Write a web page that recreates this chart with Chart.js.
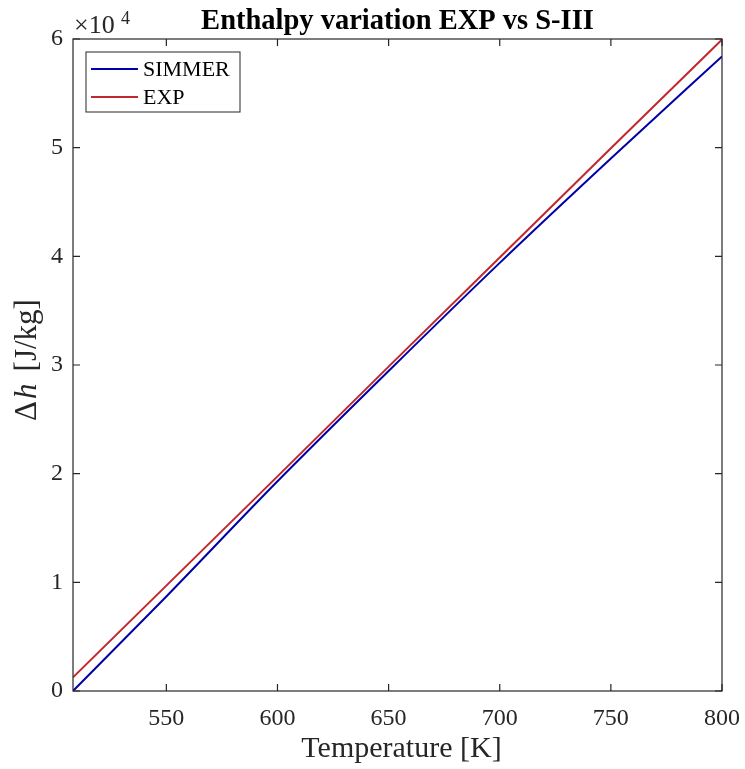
<!DOCTYPE html>
<html>
<head>
<meta charset="utf-8">
<script src="https://cdn.jsdelivr.net/npm/chart.js@4"></script>
<style>
  html, body { margin: 0; padding: 0; background: #fff; }
  #wrap { width: 745px; height: 769px; }
</style>
</head>
<body>
<div id="wrap"><canvas id="chart" width="745" height="769"></canvas></div>
<script>
// temperature [K] and enthalpy variation [J/kg]
const temperature = [508, 550, 600, 650, 700, 750, 800];
const simmer = [0, 8700, 19300, 29450, 39400, 49000, 58400];
const exp = [1260, 9700, 19750, 29850, 39900, 49950, 59950];
const xTicks = [550, 600, 650, 700, 750, 800];
const yTicks = [0, 10000, 20000, 30000, 40000, 50000, 60000];

const ctx = document.getElementById("chart").getContext("2d");
const serif = "'Liberation Serif', 'DejaVu Serif', serif";
const blue = "#0000a8";
const red = "#c0282e";
const ink = "#262626";

// MATLAB-style box, inward ticks, exponent, titles, legend
const matlabLook = {
    id: "matlabLook",
    afterDraw(chart) {
        const c = chart.ctx;
        const a = chart.chartArea;
        const xs = chart.scales.x;
        const ys = chart.scales.y;
        c.save();
        c.strokeStyle = ink;
        c.lineWidth = 1.2;
        c.strokeRect(a.left, a.top, a.right - a.left, a.bottom - a.top);
        c.beginPath();
        xTicks.forEach((t) => {
            const px = xs.getPixelForValue(t);
            c.moveTo(px, a.bottom); c.lineTo(px, a.bottom - 7);
            c.moveTo(px, a.top); c.lineTo(px, a.top + 7);
        });
        yTicks.forEach((t) => {
            const py = ys.getPixelForValue(t);
            c.moveTo(a.left, py); c.lineTo(a.left + 7, py);
            c.moveTo(a.right, py); c.lineTo(a.right - 7, py);
        });
        c.stroke();

        // exponent
        c.fillStyle = ink;
        c.textBaseline = "alphabetic";
        c.textAlign = "left";
        c.font = "26px " + serif;
        c.fillText("\u00d710", a.left + 1, 33);
        c.font = "18px " + serif;
        c.fillText("4", a.left + 48, 24);

        // title
        c.fillStyle = "#000";
        c.textAlign = "center";
        c.font = "bold 28.5px " + serif;
        c.fillText("Enthalpy variation EXP vs S-III", (a.left + a.right) / 2, 29);

        // x-axis title
        c.fillStyle = ink;
        c.font = "30px " + serif;
        c.fillText("Temperature [K]", (a.left + a.right) / 2 + 4, 757);

        // y-axis title
        c.save();
        c.translate(36, (a.top + a.bottom) / 2 - 5);
        c.rotate(-Math.PI / 2);
        c.textAlign = "left";
        const parts = [["\u0394", "31px ", 2], ["h", "italic 31px ", 12], ["[J/kg]", "31px ", 0]];
        let total = 0;
        parts.forEach((p) => { c.font = p[1] + serif; total += c.measureText(p[0]).width + p[2]; });
        let x0 = -total / 2;
        parts.forEach((p) => {
            c.font = p[1] + serif;
            c.fillText(p[0], x0, 0);
            x0 += c.measureText(p[0]).width + p[2];
        });
        c.restore();

        // legend
        const lx = a.left + 13, ly = a.top + 13, lw = 154, lh = 60;
        c.fillStyle = "#fff";
        c.fillRect(lx, ly, lw, lh);
        c.strokeStyle = ink;
        c.lineWidth = 1;
        c.strokeRect(lx, ly, lw, lh);
        c.font = "22px " + serif;
        c.textAlign = "left";
        c.textBaseline = "middle";
        chart.data.datasets.forEach((ds, i) => {
            const yy = ly + 17 + i * 28;
            c.strokeStyle = ds.borderColor;
            c.lineWidth = 2;
            c.beginPath();
            c.moveTo(lx + 5, yy); c.lineTo(lx + 52, yy);
            c.stroke();
            c.fillStyle = "#000";
            c.fillText(ds.label, lx + 57, yy + 1);
        });
        c.restore();
    }
};

new Chart(ctx, {
    type: "line",
    data: {
        labels: temperature,
        datasets: [
            {
                label: "SIMMER",
                data: temperature.map((t, i) => ({ x: t, y: simmer[i] })),
                borderColor: blue,
                borderWidth: 2,
                pointRadius: 0,
                cubicInterpolationMode: "monotone",
                fill: false
            },
            {
                label: "EXP",
                data: temperature.map((t, i) => ({ x: t, y: exp[i] })),
                borderColor: red,
                borderWidth: 2,
                pointRadius: 0,
                fill: false
            }
        ]
    },
    options: {
        responsive: false,
        animation: false,
        layout: { padding: { top: 39, right: 21, left: 0, bottom: 0 } },
        plugins: {
            legend: { display: false },
            title: { display: false },
            tooltip: { enabled: false }
        },
        scales: {
            x: {
                type: "linear",
                min: 508,
                max: 800,
                grid: { display: false },
                border: { display: false },
                afterBuildTicks: (s) => { s.ticks = xTicks.map((v) => ({ value: v })); },
                afterFit: (s) => { s.height = 78; },
                ticks: {
                    padding: 5,
                    color: ink,
                    font: { family: serif, size: 24 }
                }
            },
            y: {
                min: 0,
                max: 60000,
                grid: { display: false },
                border: { display: false },
                afterBuildTicks: (s) => { s.ticks = yTicks.map((v) => ({ value: v })); },
                afterFit: (s) => { s.width = 73; },
                ticks: {
                    padding: 2,
                    color: ink,
                    font: { family: serif, size: 24 },
                    callback: (v) => v / 10000
                }
            }
        }
    },
    plugins: [matlabLook]
});
</script>
</body>
</html>
